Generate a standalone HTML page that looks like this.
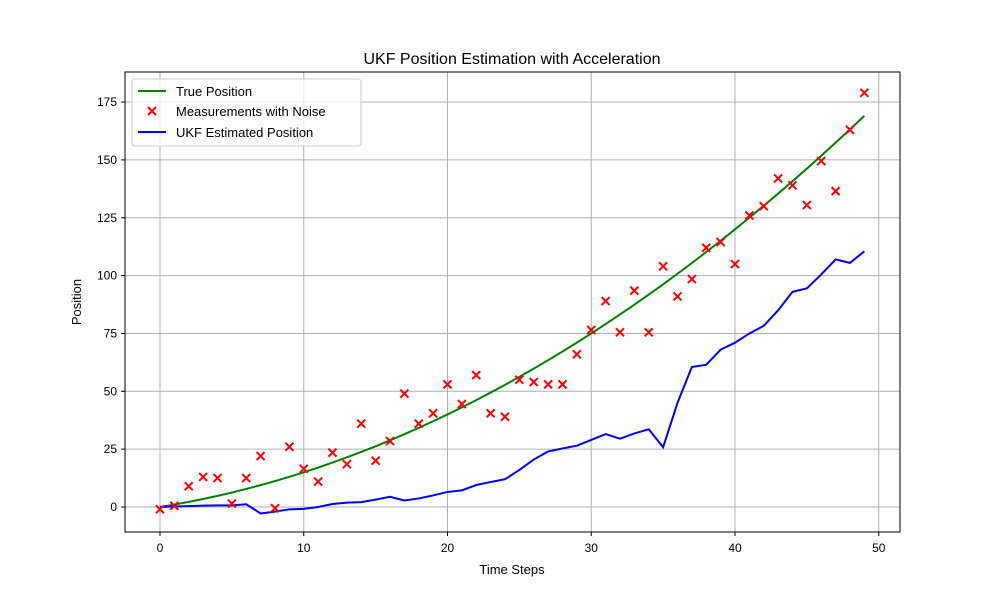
<!DOCTYPE html>
<html><head><meta charset="utf-8"><style>
body{margin:0;background:#fff;font-family:"Liberation Sans","DejaVu Sans",sans-serif}
</style></head><body>
<svg width="1000" height="600" xmlns="http://www.w3.org/2000/svg" font-family="Liberation Sans, DejaVu Sans, sans-serif">
<rect width="1000" height="600" fill="#fff"/>
<text x="512" y="64" font-size="16" text-anchor="middle">UKF Position Estimation with Acceleration</text>
<g id="grid"></g>
<g id="plot"></g>
<rect x="125" y="72" width="775" height="460" fill="none" stroke="#000" stroke-width="1"/>
<g id="ticks" font-size="12"></g>
<text x="512" y="574" font-size="13" text-anchor="middle">Time Steps</text>
<text x="81" y="302" font-size="13" text-anchor="middle" transform="rotate(-90 81 302)">Position</text>
<g>
<rect x="132" y="79" width="229" height="67" rx="3" fill="#fff" fill-opacity="0.8" stroke="#ccc"/>
<line x1="138" y1="91" x2="166" y2="91" stroke="green" stroke-width="2"/>
<text x="176" y="96" font-size="13">True Position</text>
<path d="M148,107L156,115M148,115L156,107" stroke="red" stroke-width="2"/>
<text x="176" y="116" font-size="13">Measurements with Noise</text>
<line x1="138" y1="132" x2="166" y2="132" stroke="blue" stroke-width="2"/>
<text x="176" y="137" font-size="13">UKF Estimated Position</text>
</g>
</svg>
<script>
const steps=[];for(let i=0;i<50;i++)steps.push(i);
const truePos=[0,1.05,2.2,3.45,4.8,6.25,7.8,9.45,11.2,13.05,15,17.05,19.2,21.45,23.8,26.25,28.8,31.45,34.2,37.05,40,43.05,46.2,49.45,52.8,56.25,59.8,63.45,67.2,71.05,75,79.05,83.2,87.45,91.8,96.25,100.8,105.45,110.2,115.05,120,125.05,130.2,135.45,140.8,146.25,151.8,157.45,163.2,169.05];
const measured=[-1,0.5,9,13,12.5,1.5,12.5,22,-0.5,26,16.5,11,23.5,18.5,36,20,28.5,49,36,40.5,53,44.5,57,40.5,39,55,54,53,53,66,76.5,89,75.5,93.5,75.5,104,91,98.5,112,114.5,105,126,130,142,139,130.5,149.5,136.5,163,179];
const ukf=[0,0.2,0.4,0.6,0.7,0.7,1.2,-2.8,-2,-1,-0.8,0,1.3,1.9,2.1,3.2,4.4,2.8,3.7,5,6.5,7.2,9.5,10.8,12,16,20.5,24,25.3,26.5,29,31.5,29.5,31.8,33.6,25.8,45,60.5,61.5,68,71,75,78.3,85,93,94.5,100.5,107,105.5,110.5];
const xTicks=[0,10,20,30,40,50];
const yTicks=[0,25,50,75,100,125,150,175];
const NS='http://www.w3.org/2000/svg';
const X=v=>160+v*14.375;
const Y=v=>507-v*2.314;
function mk(tag,attrs,parent){const e=document.createElementNS(NS,tag);for(const k in attrs)e.setAttribute(k,attrs[k]);parent.appendChild(e);return e;}
const grid=document.getElementById('grid'),plot=document.getElementById('plot'),ticks=document.getElementById('ticks');
xTicks.forEach(t=>{
 const g=mk('line',{x1:X(t),x2:X(t),y1:72,y2:532,stroke:'#b0b0b0','stroke-width':1},grid);
 
 
 mk('line',{x1:X(t),x2:X(t),y1:532,y2:536,stroke:'#000'},ticks);
 const tx=mk('text',{x:X(t),y:552,'text-anchor':'middle'},ticks);tx.textContent=t;
 
 
});
yTicks.forEach(t=>{
 const g=mk('line',{x1:125,x2:900,y1:Y(t),y2:Y(t),stroke:'#b0b0b0','stroke-width':1},grid);
 
 
 mk('line',{x1:121,x2:125,y1:Y(t),y2:Y(t),stroke:'#000'},ticks);
 const tx=mk('text',{x:117,y:Y(t)+4,'text-anchor':'end'},ticks);tx.textContent=t;
 
 
});
const tl=mk('polyline',{points:steps.map((s,i)=>X(s)+','+Y(truePos[i])).join(' '),fill:'none',stroke:'green','stroke-width':2},plot);


const ul=mk('polyline',{points:steps.map((s,i)=>X(s)+','+Y(ukf[i])).join(' '),fill:'none',stroke:'blue','stroke-width':2},plot);


steps.forEach((s,i)=>{
 const x=X(s),y=Y(measured[i]),d=4;
 const p=mk('path',{d:`M${x-d},${y-d}L${x+d},${y+d}M${x-d},${y+d}L${x+d},${y-d}`,stroke:'red','stroke-width':2},plot);
 
 
});
</script>
</body></html>
